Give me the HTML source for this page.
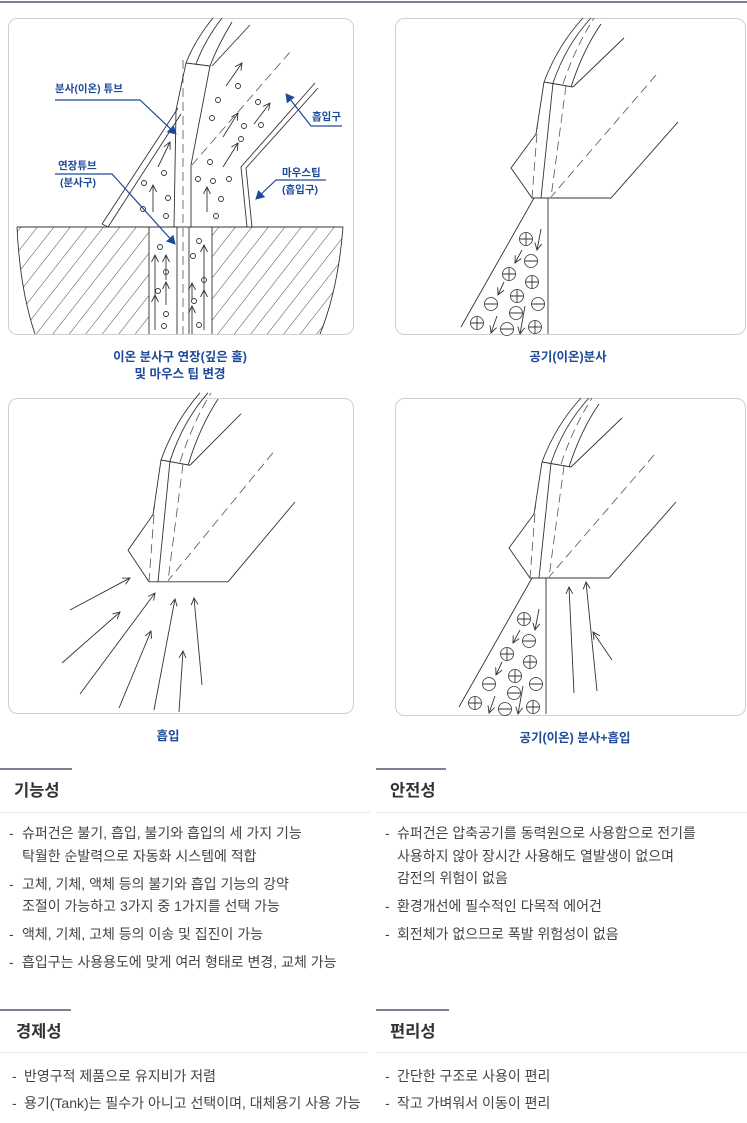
<!DOCTYPE html>
<html><head><meta charset="utf-8"><style>
html,body{margin:0;padding:0;background:#fff}
svg{display:block}
text{font-family:"Liberation Sans","Noto Sans CJK KR",sans-serif}
.b{font-size:14px;fill:#444}
.t{font-size:16.5px;font-weight:bold;fill:#333}
.cap{font-size:12.5px;fill:#1e4a9a;font-weight:bold}
.lb{font-size:10.5px;fill:#1e4a9a;font-weight:bold}
.ln{stroke:#333;stroke-width:0.9;fill:none}
.dl{stroke:#555;stroke-width:0.8;fill:none;stroke-dasharray:9 5}
.ci{stroke:#333;stroke-width:0.8;fill:#fff}
</style></head><body>
<svg width="747" height="1123" viewBox="0 0 747 1123" xmlns="http://www.w3.org/2000/svg">
<defs>
<marker id="ah" markerWidth="8" markerHeight="8" refX="7" refY="4" orient="auto" markerUnits="userSpaceOnUse"><path d="M0,0.5 L7,4 L0,7.5" fill="none" stroke="#333" stroke-width="0.9"/></marker>
<marker id="bh" markerWidth="10" markerHeight="10" refX="8" refY="5" orient="auto" markerUnits="userSpaceOnUse"><path d="M0,0 L9,5 L0,10 Z" fill="#1e4a9a"/></marker>
<pattern id="hat" width="13" height="13" patternUnits="userSpaceOnUse" patternTransform="rotate(38)"><line x1="0" y1="0" x2="0" y2="13" stroke="#333" stroke-width="0.9"/></pattern>
<g id="noz">
 <path class="ln" d="M544,82 Q558,45 583,18"/>
 <path class="ln" d="M553,83 Q566,45 591,18"/>
 <path class="dl" d="M563,84 Q575,48 594,18"/>
 <path class="ln" d="M571,87 Q583,50 601,24"/>
 <path class="ln" d="M573,87 L624,38"/>
 <path class="ln" d="M544,82 L573,87"/>
 <path class="ln" d="M544,82 L536,134 L511,168 L532,198 L611,198 L678,122"/>
 <path class="ln" d="M553,83 L541,198"/>
 <path class="dl" d="M538,120 L532,198"/>
 <path class="dl" d="M566,86 L551,197"/>
 <path class="dl" d="M656,75 L551,197"/>
</g>
<g id="ion">
 <path class="ln" d="M534,198 L461,327"/>
 <path class="ln" d="M548,198 L548,334"/>
 <g class="ci">
 <circle cx="526" cy="239" r="6.5"/><circle cx="531" cy="261" r="6.5"/><circle cx="509" cy="274" r="6.5"/><circle cx="532" cy="282" r="6.5"/><circle cx="517" cy="296" r="6.5"/><circle cx="491" cy="304" r="6.5"/><circle cx="538" cy="304" r="6.5"/><circle cx="516" cy="313" r="6.5"/><circle cx="477" cy="323" r="6.5"/><circle cx="507" cy="329" r="6.5"/><circle cx="535" cy="327" r="6.5"/>
 </g>
 <path class="ln" d="M519.5,239h13M526,232.5v13 M524.5,261h13 M502.5,274h13M509,267.5v13 M525.5,282h13M532,275.5v13 M510.5,296h13M517,289.5v13 M484.5,304h13 M531.5,304h13 M509.5,313h13 M470.5,323h13M477,316.5v13 M500.5,329h13 M528.5,327h13M535,320.5v13"/>
 <path class="ln" marker-end="url(#ah)" d="M541,229 L537,250"/>
 <path class="ln" marker-end="url(#ah)" d="M522,250 L515,263"/>
 <path class="ln" marker-end="url(#ah)" d="M504,282 L498,295"/>
 <path class="ln" marker-end="url(#ah)" d="M497,316 L491,333"/>
 <path class="ln" marker-end="url(#ah)" d="M525,306 L520,334"/>
</g>
</defs>
<line x1="0" y1="2" x2="747" y2="2" stroke="#2b3656" stroke-width="1.3"/>
<rect x="8.5" y="18.5" width="345" height="316" rx="9" fill="none" stroke="#cfcfcf"/>
<rect x="395.5" y="18.5" width="350" height="316" rx="9" fill="none" stroke="#cfcfcf"/>
<rect x="8.5" y="398.5" width="345" height="315" rx="9" fill="none" stroke="#cfcfcf"/>
<rect x="395.5" y="398.5" width="350" height="317" rx="9" fill="none" stroke="#cfcfcf"/>

<g>
 <path d="M17,227 L149,227 L149,334 L35,334 Q20,290 17,227 Z" fill="url(#hat)"/>
 <path d="M212,227 L343,227 Q338,290 320,334 L212,334 Z" fill="url(#hat)"/>
 <path class="ln" d="M17,227 L343,227 M17,227 Q20,290 35,334 M343,227 Q338,290 320,334"/>
 <path class="ln" d="M149,227V334 M212,227V334 M177,227V334 M189,227V334"/>
 <path class="dl" d="M183,60V334"/>
 <path class="ln" d="M186,63 Q195,40 213,18 M196,64 Q205,40 222,18 M210,66 Q218,45 232,22 M212,66 L250,25 M186,63 L210,66"/>
 <path class="ln" d="M186,63 L176,110 L174,227 M210,66 L191,165 L191,227"/>
 <path class="ln" d="M102,224 L178,108 M108,227 L181,114 M102,224 L108,227"/>
 <path class="dl" d="M192,165 L290,52"/>
 <path class="ln" d="M247,227 L241,167 L315,83 M252,227 L246,168 L318,88"/>
 <g class="ln">
 <circle cx="238" cy="86" r="2.5"/><circle cx="218" cy="100" r="2.5"/><circle cx="258" cy="102" r="2.5"/><circle cx="212" cy="118" r="2.5"/><circle cx="244" cy="126" r="2.5"/><circle cx="261" cy="125" r="2.5"/><circle cx="241" cy="139" r="2.5"/><circle cx="210" cy="162" r="2.5"/><circle cx="198" cy="179" r="2.5"/><circle cx="213" cy="181" r="2.5"/><circle cx="229" cy="179" r="2.5"/><circle cx="221" cy="199" r="2.5"/><circle cx="216" cy="216" r="2.5"/>
 <circle cx="164" cy="173" r="2.5"/><circle cx="144" cy="183" r="2.5"/><circle cx="168" cy="198" r="2.5"/><circle cx="143" cy="209" r="2.5"/><circle cx="166" cy="216" r="2.5"/>
 <circle cx="160" cy="247" r="2.5"/><circle cx="166" cy="272" r="2.5"/><circle cx="158" cy="291" r="2.5"/><circle cx="166" cy="314" r="2.5"/><circle cx="164" cy="326" r="2.5"/>
 <circle cx="199" cy="241" r="2.5"/><circle cx="193" cy="256" r="2.5"/><circle cx="204" cy="280" r="2.5"/><circle cx="194" cy="301" r="2.5"/><circle cx="199" cy="325" r="2.5"/>
 </g>
 <g class="ln" marker-end="url(#ah)">
 <path d="M226,86 L242,63"/><path d="M254,124 L270,103"/><path d="M223,137 L238,113"/><path d="M223,167 L238,143"/>
 <path d="M207,212 L207,187"/><path d="M153,212 L153,185"/><path d="M158,167 L170,142"/>
 <path d="M155,330 L155,295"/><path d="M155,300 L155,255"/><path d="M166,305 L166,282"/><path d="M166,280 L166,255"/>
 <path d="M192,334 L192,306"/><path d="M192,300 L192,283"/><path d="M204,330 L204,290"/><path d="M204,290 L204,245"/>
 </g>
 <text class="lb" x="55" y="92">분사(이온) 튜브</text>
 <path d="M55,100 L140,100 L176,134" stroke="#1e4a9a" stroke-width="1.2" fill="none" marker-end="url(#bh)"/>
 <text class="lb" x="58" y="169">연장튜브</text>
 <text class="lb" x="60" y="186">(분사구)</text>
 <path d="M55,174 L112,174 L175,244" stroke="#1e4a9a" stroke-width="1.2" fill="none" marker-end="url(#bh)"/>
 <text class="lb" x="312" y="120">흡입구</text>
 <path d="M342,126 L311,126 L286,94" stroke="#1e4a9a" stroke-width="1.2" fill="none" marker-end="url(#bh)"/>
 <text class="lb" x="282" y="176">마우스팁</text>
 <text class="lb" x="282" y="193">(흡입구)</text>
 <path d="M326,180 L276,180 L256,199" stroke="#1e4a9a" stroke-width="1.2" fill="none" marker-end="url(#bh)"/>
</g>
<text class="cap" x="180" y="361" text-anchor="middle">이온 분사구 연장(깊은 홀)</text>
<text class="cap" x="180" y="378" text-anchor="middle">및 마우스 팁 변경</text>

<use href="#noz"/>
<use href="#ion"/>
<text class="cap" x="568" y="361" text-anchor="middle">공기(이온)분사</text>

<g transform="translate(-383,378) translate(544,82) scale(1,1.05) translate(-544,-82)"><use href="#noz"/></g>
<g class="ln" marker-end="url(#ah)">
 <path d="M70,610 L130,578"/><path d="M62,663 L120,612"/><path d="M80,694 L155,593"/><path d="M119,708 L151,631"/><path d="M154,710 L175,599"/><path d="M179,712 L183,651"/><path d="M202,685 L194,598"/>
</g>
<text class="cap" x="168" y="740" text-anchor="middle">흡입</text>

<g transform="translate(-2,380)"><use href="#noz"/><use href="#ion"/></g>
<g class="ln" marker-end="url(#ah)">
 <path d="M574,693 L569,587"/><path d="M597,691 L586,582"/><path d="M612,660 L593,632"/>
</g>
<text class="cap" x="575" y="742" text-anchor="middle">공기(이온) 분사+흡입</text>

<line x1="0" y1="769" x2="72" y2="769" stroke="#2b3656" stroke-width="1.2"/>
<line x1="376" y1="769" x2="446" y2="769" stroke="#2b3656" stroke-width="1.2"/>
<text class="t" x="14" y="796">기능성</text>
<text class="t" x="390" y="796">안전성</text>
<line x1="0" y1="812.5" x2="370" y2="812.5" stroke="#e6e6e6"/>
<line x1="376" y1="812.5" x2="747" y2="812.5" stroke="#e6e6e6"/>
<g class="b">
<text x="9" y="838">-</text><text x="22" y="838">슈퍼건은 불기, 흡입, 불기와 흡입의 세 가지 기능</text>
<text x="22" y="861">탁월한 순발력으로 자동화 시스템에 적합</text>
<text x="9" y="889">-</text><text x="22" y="889">고체, 기체, 액체 등의 불기와 흡입 기능의 강약</text>
<text x="22" y="911">조절이 가능하고 3가지 중 1가지를 선택 가능</text>
<text x="9" y="939">-</text><text x="22" y="939">액체, 기체, 고체 등의 이송 및 집진이 가능</text>
<text x="9" y="967">-</text><text x="22" y="967">흡입구는 사용용도에 맞게 여러 형태로 변경, 교체 가능</text>
<text x="385" y="838">-</text><text x="397" y="838">슈퍼건은 압축공기를 동력원으로 사용함으로 전기를</text>
<text x="397" y="861">사용하지 않아 장시간 사용해도 열발생이 없으며</text>
<text x="397" y="883">감전의  위험이 없음</text>
<text x="385" y="911">-</text><text x="397" y="911">환경개선에 필수적인 다목적 에어건</text>
<text x="385" y="939">-</text><text x="397" y="939">회전체가 없으므로 폭발 위험성이 없음</text>
</g>
<line x1="0" y1="1010" x2="71" y2="1010" stroke="#2b3656" stroke-width="1.2"/>
<line x1="376" y1="1010" x2="449" y2="1010" stroke="#2b3656" stroke-width="1.2"/>
<text class="t" x="16" y="1037">경제성</text>
<text class="t" x="390" y="1037">편리성</text>
<line x1="0" y1="1052.5" x2="367" y2="1052.5" stroke="#e6e6e6"/>
<line x1="376" y1="1052.5" x2="747" y2="1052.5" stroke="#e6e6e6"/>
<g class="b">
<text x="12" y="1081">-</text><text x="24" y="1081">반영구적 제품으로 유지비가 저렴</text>
<text x="12" y="1108">-</text><text x="24" y="1108">용기(Tank)는 필수가 아니고 선택이며, 대체용기 사용 가능</text>
<text x="385" y="1081">-</text><text x="397" y="1081">간단한 구조로 사용이 편리</text>
<text x="385" y="1108">-</text><text x="397" y="1108">작고 가벼워서 이동이 편리</text>
</g>
</svg>
</body></html>
